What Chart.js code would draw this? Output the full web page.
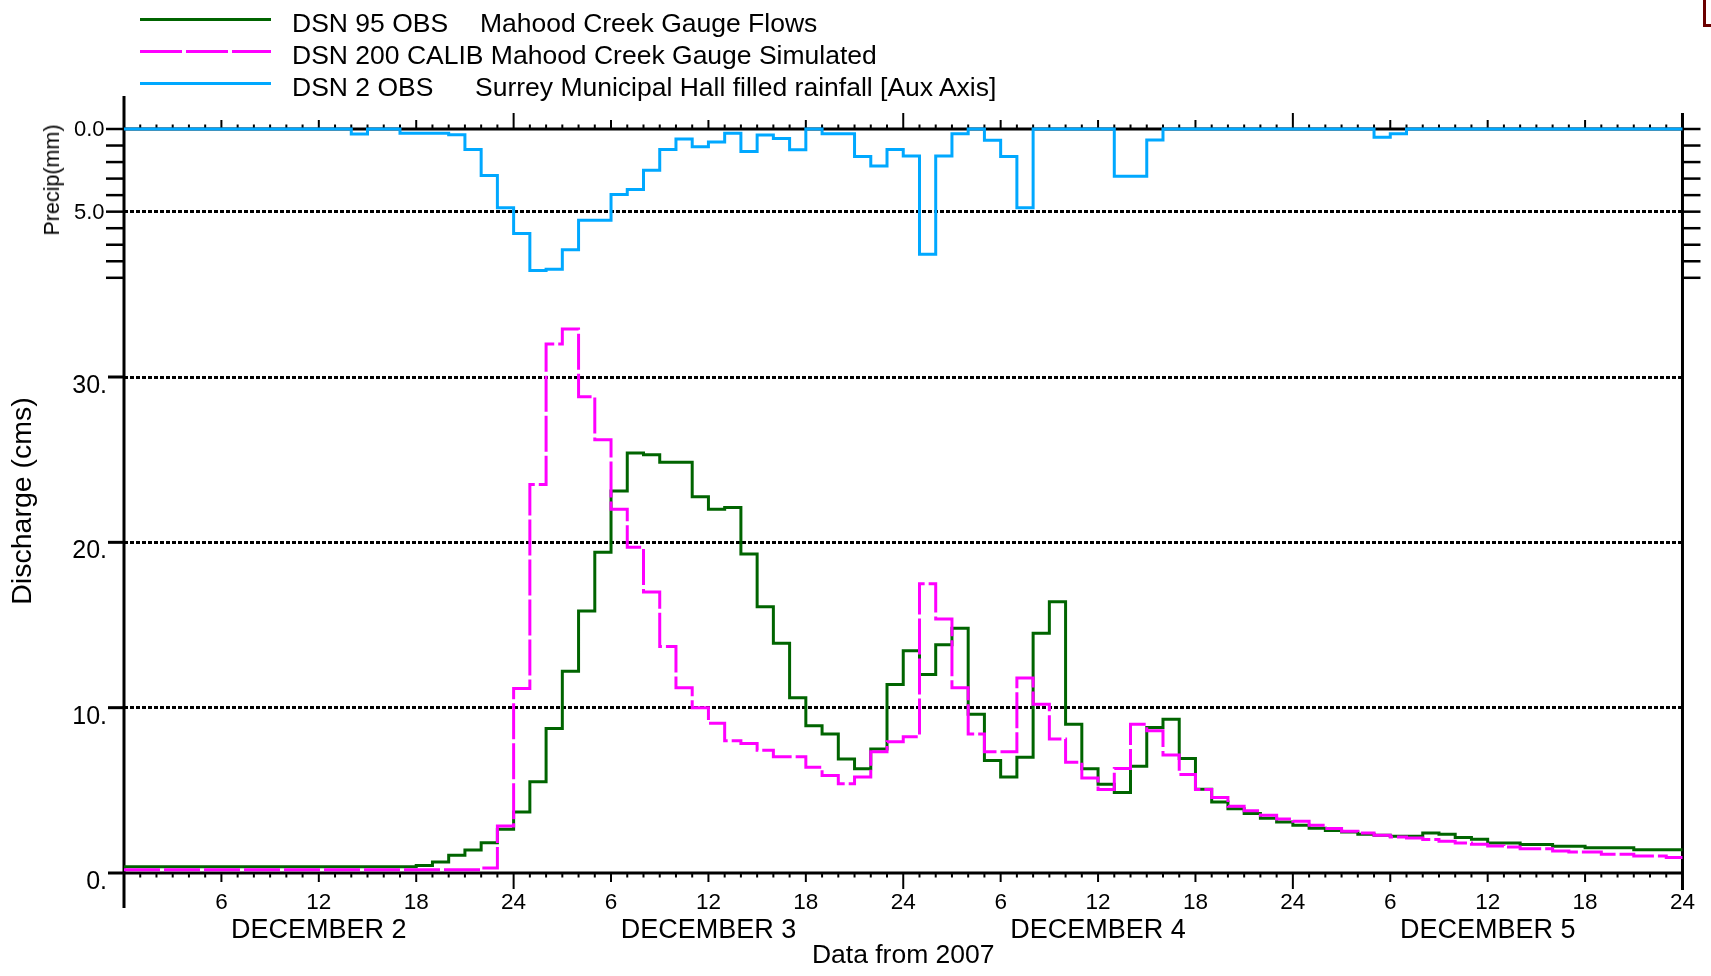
<!DOCTYPE html>
<html>
<head>
<meta charset="utf-8">
<script src="https://cdn.jsdelivr.net/npm/chart.js@4/dist/chart.umd.min.js"></script>
<style>
html,body{margin:0;padding:0;background:#fff;}
#wrap{position:relative;width:1711px;height:976px;overflow:hidden;font-family:"Liberation Sans",Arial,sans-serif;background:#fff;}
#c{position:absolute;left:0;top:0;}
.lg{position:absolute;font-size:26.5px;line-height:26px;color:#000;white-space:pre;}
.sw{position:absolute;left:140px;width:131px;height:3px;}
#corner{position:absolute;left:1703px;top:0px;width:6px;height:24px;border-left:3px solid #6b0000;border-bottom:3px solid #6b0000;}
#ptitle{position:absolute;left:52px;top:180px;font-size:21.5px;line-height:24px;color:#000;white-space:nowrap;transform:translate(-50%,-50%) rotate(-90deg);}
</style>
</head>
<body>
<div id="wrap">
<canvas id="c" width="1711" height="976"></canvas>
<div class="sw" style="top:18px;background:#006400"></div>
<div class="sw" style="top:50px;background:repeating-linear-gradient(to right,#ff00ff 0 42px,transparent 42px 46px)"></div>
<div class="sw" style="top:82px;background:#00a8ff"></div>
<div class="lg" style="left:292px;top:10px">DSN 95 OBS</div>
<div class="lg" style="left:480px;top:10px">Mahood Creek Gauge Flows</div>
<div class="lg" style="left:292px;top:42px">DSN 200 CALIB Mahood Creek Gauge Simulated</div>
<div class="lg" style="left:292px;top:74px">DSN 2 OBS</div>
<div class="lg" style="left:475px;top:74px">Surrey Municipal Hall filled rainfall [Aux Axis]</div>
<div id="ptitle">Precip(mm)</div>
<div id="corner"></div>
</div>
<script>
// ---- data: hourly values, 2007 Dec 2 00:00 .. Dec 5 24:00 (96 hours) ----
const obsFlow = [
 0.38,0.38,0.38,0.38,0.38,0.38,0.38,0.38,0.38,0.38,0.38,0.38,0.38,0.38,0.38,0.38,0.38,0.38,
 0.46,0.66,1.07,1.39,1.83,2.64,
 3.69,5.52,8.74,12.2,15.85,19.4,23.1,25.4,25.3,24.85,24.85,22.75,
 22.0,22.1,19.3,16.1,13.9,10.6,8.9,8.4,6.9,6.3,7.5,11.4,
 13.45,12.0,13.8,14.8,9.6,6.8,5.8,7.0,14.5,16.4,9.0,6.3,
 5.37,4.87,6.46,8.8,9.3,6.93,5.07,4.3,3.88,3.6,3.31,3.09,
 2.89,2.7,2.57,2.48,2.34,2.28,2.22,2.22,2.42,2.34,2.14,2.04,
 1.82,1.82,1.72,1.72,1.62,1.62,1.52,1.52,1.52,1.41,1.41,1.41
];
const simFlow = [
 0.2,0.2,0.2,0.2,0.2,0.2,0.2,0.2,0.2,0.2,0.2,0.2,0.2,0.2,0.2,0.2,0.2,0.2,0.2,0.2,0.2,0.2,
 0.3,2.84,
 11.16,23.5,32.0,32.9,28.8,26.2,22.0,19.7,17.0,13.7,11.2,10.0,
 9.05,8.0,7.84,7.43,7.03,7.03,6.4,5.9,5.4,5.8,7.33,7.94,
 8.24,17.5,15.37,11.2,8.4,7.33,7.33,11.8,10.2,8.1,6.7,5.75,
 5.05,6.32,9.0,8.6,7.13,5.96,5.05,4.57,4.04,3.76,3.5,3.27,
 3.13,2.89,2.69,2.53,2.42,2.28,2.18,2.12,2.02,1.92,1.82,1.74,
 1.64,1.58,1.47,1.47,1.33,1.27,1.27,1.13,1.13,1.03,1.03,0.93
];
const rainfall = [
 0,0,0,0,0,0,0,0,0,0,0,0,0,0,0.3,0,0,0.25,0.25,0.25,0.35,1.24,2.82,4.76,
 6.32,8.56,8.48,7.3,5.52,5.52,3.96,3.66,2.5,1.24,0.6,1.08,0.78,0.26,1.36,0.36,0.58,1.26,0,0.28,0.28,1.66,2.24,1.24,
 1.64,7.58,1.64,0.28,0,0.68,1.66,4.76,0,0,0,0,0,2.86,2.86,0.66,0,0,0,0,0,0,0,0,
 0,0,0,0,0,0.5,0.28,0,0,0,0,0,0,0,0,0,0,0,0,0,0,0,0,0
];
const hourTickValues = [6,12,18,24,30,36,42,48,54,60,66,72,78,84,90,96];
const hourTickLabels = ['6','12','18','24','6','12','18','24','6','12','18','24','6','12','18','24'];
const dayTickValues = [12,36,60,84];
const dayLabels = ['DECEMBER 2','DECEMBER 3','DECEMBER 4','DECEMBER 5'];
const dischargeTicks = [0,10,20,30];
const dischargeTickLabels = ['0.','10.','20.','30.'];
const precipTicks = [0,5];
const precipTickLabels = ['0.0','5.0'];
const precipMinorTicks = [0,1,2,3,4,5,6,7,8,9];
const seriesNames = ['DSN 95 OBS Mahood Creek Gauge Flows','DSN 200 CALIB Mahood Creek Gauge Simulated','DSN 2 OBS Surrey Municipal Hall filled rainfall [Aux Axis]'];

function stepPoints(arr){
  const pts = arr.map((v,i)=>({x:i,y:v}));
  pts.push({x:arr.length,y:arr[arr.length-1]});
  return pts;
}

Chart.defaults.font.family = '"Liberation Sans", Arial, sans-serif';
Chart.defaults.color = '#000';

const axisDeco = {
  id:'axisDeco',
  beforeDatasetsDraw(chart){
    const {ctx, chartArea:a, scales} = chart;
    const sx = scales.x, sy = scales.y, sp = scales.y2;
    const line = (x1,y1,x2,y2)=>{ctx.beginPath();ctx.moveTo(x1,y1);ctx.lineTo(x2,y2);ctx.stroke();};
    ctx.save();
    ctx.strokeStyle = '#000';
    ctx.lineCap = 'butt';
    ctx.lineWidth = 2;
    for (let h = 1; h < 96; h++) {
      const px = sx.getPixelForValue(h);
      const len = h % 24 === 0 ? 16 : (h % 6 === 0 ? 9 : 4.5);
      line(px, a.top, px, a.top - len);
      line(px, a.bottom, px, a.bottom + len);
    }
    ctx.lineWidth = 2.5;
    precipMinorTicks.forEach(v=>{
      const py = sp.getPixelForValue(v);
      line(a.left - 18, py, a.left, py);
      line(a.right, py, a.right + 18, py);
    });
    ctx.lineWidth = 3;
    dischargeTicks.forEach(v=>{
      const py = sy.getPixelForValue(v);
      line(a.left - 16, py, a.left, py);
    });
    ctx.lineWidth = 3;
    line(a.left, a.top - 33, a.left, a.bottom + 35);
    line(a.right, a.top - 16, a.right, a.bottom + 17);
    line(a.left, a.top, a.right, a.top);
    line(a.left, a.bottom, a.right, a.bottom);
    ctx.restore();
  }
};

new Chart(document.getElementById('c'), {
  type:'line',
  data:{
    datasets:[
      {label:seriesNames[2], data:stepPoints(rainfall), xAxisID:'x', yAxisID:'y2',
       borderColor:'#00a8ff', borderWidth:3, stepped:'before', pointRadius:0, clip:8, order:0},
      {label:seriesNames[1], data:stepPoints(simFlow), xAxisID:'x', yAxisID:'y',
       borderColor:'#ff00ff', borderWidth:3, borderDash:[36,4], stepped:'before', pointRadius:0, clip:8, order:1},
      {label:seriesNames[0], data:stepPoints(obsFlow), xAxisID:'x', yAxisID:'y',
       borderColor:'#006400', borderWidth:3, stepped:'before', pointRadius:0, clip:8, order:2}
    ]
  },
  options:{
    responsive:false, animation:false, devicePixelRatio:1,
    layout:{padding:{top:129,right:22,left:0,bottom:0}},
    plugins:{legend:{display:false}, tooltip:{enabled:false}},
    elements:{line:{borderJoinStyle:'miter',borderCapStyle:'butt',tension:0}},
    scales:{
      x:{type:'linear', position:'bottom', min:0, max:96, weight:0,
        afterBuildTicks:s=>{s.ticks = hourTickValues.map(v=>({value:v}));},
        afterFit:s=>{s.height = 41;},
        ticks:{autoSkip:false, maxRotation:0, minRotation:0, padding:16, font:{size:22.5}, color:'#000',
               callback:(v,i)=>hourTickLabels[i]},
        grid:{display:false, drawTicks:false}, border:{display:false}},
      x2:{type:'linear', position:'bottom', min:0, max:96, weight:1,
        afterBuildTicks:s=>{s.ticks = dayTickValues.map(v=>({value:v}));},
        afterFit:s=>{s.height = 62;},
        ticks:{autoSkip:false, maxRotation:0, minRotation:0, padding:0, font:{size:27}, color:'#000',
               callback:(v,i)=>dayLabels[i]},
        grid:{display:false, drawTicks:false}, border:{display:false},
        title:{display:true, text:'Data from 2007', font:{size:26.5}, color:'#000', padding:{top:0,bottom:4}}},
      y:{type:'linear', position:'left', min:0, max:45, weight:0,
        afterBuildTicks:s=>{s.ticks = dischargeTicks.map(v=>({value:v}));},
        afterFit:s=>{s.width = 124;},
        ticks:{padding:17, labelOffset:9, font:{size:25}, color:'#000',
               callback:(v,i)=>dischargeTickLabels[i]},
        grid:{drawTicks:false, lineWidth:3, color:c=>(c.tick && c.tick.value>0)?'#000':'rgba(0,0,0,0)'},
        border:{display:false, dash:[4,2]},
        title:{display:true, text:'Discharge (cms)', font:{size:28.5}, color:'#000', padding:{top:6,bottom:0}}},
      y2:{type:'linear', position:'left', reverse:true, min:0, max:45, weight:-1,
        afterBuildTicks:s=>{s.ticks = precipTicks.map(v=>({value:v}));},
        afterFit:s=>{s.width = 0;},
        ticks:{mirror:true, padding:-50, labelOffset:1, font:{size:22}, color:'#000',
               callback:(v,i)=>precipTickLabels[i]},
        grid:{drawTicks:false, lineWidth:3, color:c=>(c.tick && c.tick.value>0)?'#000':'rgba(0,0,0,0)'},
        border:{display:false, dash:[4,2]},
        title:{display:false}}
    }
  },
  plugins:[axisDeco]
});
</script>
</body>
</html>
